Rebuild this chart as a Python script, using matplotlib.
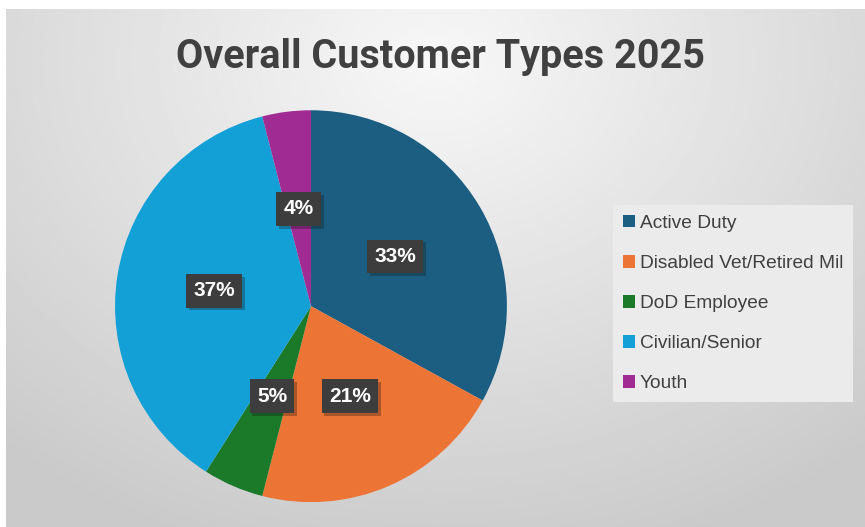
"""
Pie chart: overall customer types 2025
"""

import numpy as np
import matplotlib.pyplot as plt
import matplotlib.patheffects as pe

labels = ['Active Duty', 'Disabled Vet/Retired Mil', 'DoD Employee', 'Civilian/Senior', 'Youth']
shares = [33, 21, 5, 37, 4]
colors = ['#1b5e82', '#ec7434', '#1a7a2a', '#12a0d7', '#a02b93']

fig = plt.figure(figsize=(8.65, 5.27), dpi=100)
fig.patch.set_facecolor('white')

# gradient background of the chart area
bg = fig.add_axes([6/865, 0, 859/865, 1-9/527])
yy, xx = np.mgrid[0:1:300j, 0:1:500j]
r = np.sqrt(((xx-0.5)*1.3)**2 + ((yy-0.1)*1.0)**2)
r = np.clip(r/1.0, 0, 1)
shade = 0.97 - 0.18*r
bg.imshow(shade, cmap='gray', vmin=0, vmax=1, aspect='auto', extent=[0, 1, 0, 1], origin='upper')
bg.axis('off')

ax = fig.add_axes([0.133, 0.047, 0.453, 0.744])
wedges, texts, autotexts = ax.pie(shares, colors=colors, startangle=90, counterclock=False,
                                  autopct='%d%%', pctdistance=0.5,
                                  wedgeprops=dict(linewidth=0))
for t in autotexts:
    t.set_color('white')
    t.set_fontsize(15)
    t.set_fontweight('bold')
    t.set_family(['Liberation Sans', 'DejaVu Sans'])
    t.set_bbox(dict(boxstyle='square,pad=0.35', facecolor='#3d3d3d', edgecolor='none',
                    path_effects=[pe.withSimplePatchShadow(offset=(2, -2), alpha=0.3)]))
ax.set_xlim(-1, 1)
ax.set_ylim(-1, 1)
ax.set_aspect('equal')

fig.text(0.509, 0.891, 'Overall Customer Types 2025', ha='center', va='center',
         fontsize=28.5, fontweight='bold', color='#404040',
         family=['Liberation Sans Narrow', 'Roboto', 'DejaVu Sans'])

leg = fig.legend(wedges, labels, loc='upper left', bbox_to_anchor=(613/865, 1-205/527),
                 borderaxespad=0, frameon=True, fancybox=False, facecolor='#ebebeb',
                 edgecolor='none', framealpha=1, labelspacing=1.2, handlelength=0.65,
                 handleheight=0.65, handletextpad=0.25, borderpad=0.5,
                 prop={'family': ['Liberation Sans', 'DejaVu Sans'], 'size': 13.8})
for t in leg.get_texts():
    t.set_color('#404040')

plt.savefig('out.png', dpi=100)
